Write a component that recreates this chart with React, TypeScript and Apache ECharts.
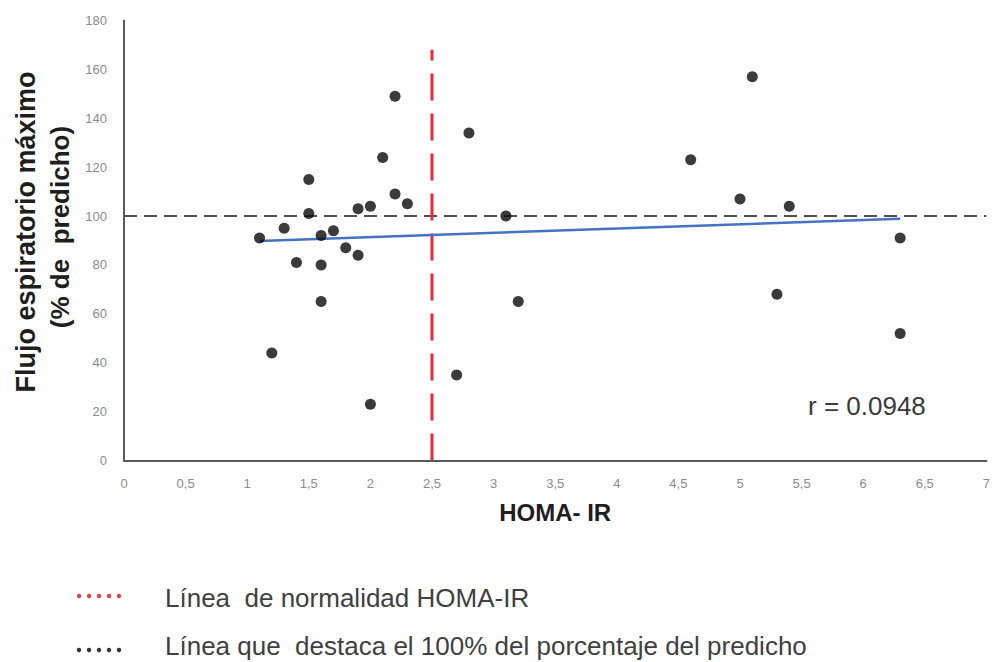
import React, { useEffect, useRef } from "react";
import * as echarts from "echarts";

// HOMA-IR index per subject and peak expiratory flow (% of predicted)
const homaIR = [
  1.1, 1.2, 1.3, 1.4, 1.5, 1.5, 1.6, 1.6, 1.6, 1.7, 1.8, 1.9, 1.9, 2.0, 2.0,
  2.1, 2.2, 2.2, 2.3, 2.7, 2.8, 3.1, 3.2, 4.6, 5.0, 5.1, 5.3, 5.4, 6.3, 6.3,
];
const flujo = [
  91, 44, 95, 81, 101, 115, 92, 80, 65, 94, 87, 84, 103, 104, 23,
  124, 149, 109, 105, 35, 134, 100, 65, 123, 107, 157, 68, 104, 91, 52,
];

// reference lines
const homaCutoff = 2.5;
const homaCutoffTop = 168;
const predictedRef = 100;
const xRange = [0, 7];

const rLabel = "r = 0.0948";
const legendItems = [
  "Línea  de normalidad HOMA-IR",
  "Línea que  destaca el 100% del porcentaje del predicho",
];

// least-squares fit of flujo on HOMA-IR
function fitLine(xs: number[], ys: number[]) {
  const n = xs.length;
  const mx = xs.reduce((a, b) => a + b, 0) / n;
  const my = ys.reduce((a, b) => a + b, 0) / n;
  let sxy = 0;
  let sxx = 0;
  for (let i = 0; i < n; i++) {
    sxy += (xs[i] - mx) * (ys[i] - my);
    sxx += (xs[i] - mx) * (xs[i] - mx);
  }
  const slope = sxy / sxx;
  const x0 = Math.min(...xs);
  const x1 = Math.max(...xs);
  return [
    [x0, my + slope * (x0 - mx)],
    [x1, my + slope * (x1 - mx)],
  ];
}

const FONT = "'Liberation Sans', Arial, sans-serif";

export default function App() {
  const ref = useRef<HTMLDivElement>(null);

  useEffect(() => {
    if (!ref.current) return;
    const chart = echarts.init(ref.current, undefined, { renderer: "svg" });

    const points = homaIR.map((x, i) => [x, flujo[i]]);
    const trend = fitLine(homaIR, flujo);

    const dots = (y: number, color: string) =>
      [0, 1, 2, 3, 4].map((k) => ({
        type: "circle",
        shape: { cx: 79 + k * 10, cy: y, r: 2.2 },
        style: { fill: color },
      }));

    chart.setOption({
      animation: false,
      backgroundColor: "#ffffff",
      grid: { left: 124, right: 6, top: 20.5, bottom: 201.5, containLabel: false },
      xAxis: {
        type: "value",
        min: xRange[0],
        max: xRange[1],
        interval: 0.5,
        name: "HOMA- IR",
        nameLocation: "middle",
        nameGap: 40,
        nameTextStyle: { fontFamily: FONT, fontSize: 24, fontWeight: "bold", color: "#1e1e1e" },
        axisLine: { lineStyle: { color: "#5a5a5a", width: 2 } },
        axisTick: { show: false },
        splitLine: { show: false },
        axisLabel: {
          margin: 16,
          fontFamily: FONT,
          fontSize: 13,
          color: "#8c8c8c",
          formatter: (v: number) => String(v).replace(".", ","),
        },
      },
      yAxis: {
        type: "value",
        min: 0,
        max: 180,
        interval: 20,
        axisLine: { show: true, lineStyle: { color: "#5a5a5a", width: 2 } },
        axisTick: { show: false },
        splitLine: { show: false },
        axisLabel: { margin: 17, fontFamily: FONT, fontSize: 13, color: "#8c8c8c" },
      },
      series: [
        {
          name: "ref100",
          type: "line",
          data: [
            [xRange[0], predictedRef],
            [xRange[1], predictedRef],
          ],
          symbol: "none",
          lineStyle: { color: "#505050", width: 2, type: [13, 7] },
          z: 2,
        },
        {
          name: "homaCutoff",
          type: "line",
          data: [
            [homaCutoff, 0],
            [homaCutoff, homaCutoffTop],
          ],
          symbol: "none",
          lineStyle: { color: "#e8283c", width: 3, type: [27, 13] },
          z: 3,
        },
        {
          name: "trend",
          type: "line",
          data: trend,
          symbol: "none",
          lineStyle: { color: "#4472c4", width: 2.5 },
          z: 4,
        },
        {
          name: "subjects",
          type: "scatter",
          data: points,
          symbol: "circle",
          symbolSize: 11,
          itemStyle: { color: "#0a0a0a" },
          z: 5,
        },
      ],
      graphic: [
        {
          type: "text",
          x: 26,
          y: 232,
          rotation: Math.PI / 2,
          style: {
            text: "Flujo espiratorio máximo",
            font: `bold 27px ${FONT}`,
            fill: "#1e1e1e",
            textAlign: "center",
            textVerticalAlign: "middle",
          },
        },
        {
          type: "text",
          x: 60,
          y: 227,
          rotation: Math.PI / 2,
          style: {
            text: "(% de  predicho)",
            font: `bold 26px ${FONT}`,
            fill: "#1e1e1e",
            textAlign: "center",
            textVerticalAlign: "middle",
          },
        },
        {
          type: "text",
          x: 808,
          y: 406,
          style: {
            text: rLabel,
            font: `26px ${FONT}`,
            fill: "#3a3a3a",
            textAlign: "left",
            textVerticalAlign: "middle",
          },
        },
        ...dots(596, "#e8404a"),
        ...dots(650, "#333333"),
        {
          type: "text",
          x: 165,
          y: 598,
          style: {
            text: legendItems[0],
            font: `26px ${FONT}`,
            fill: "#404040",
            textVerticalAlign: "middle",
          },
        },
        {
          type: "text",
          x: 165,
          y: 646,
          style: {
            text: legendItems[1],
            font: `26px ${FONT}`,
            fill: "#404040",
            textVerticalAlign: "middle",
          },
        },
      ],
    });

    return () => chart.dispose();
  }, []);

  return (
    <div
      ref={ref}
      style={{ position: "fixed", left: 0, top: 0, width: 993, height: 662 }}
    />
  );
}
